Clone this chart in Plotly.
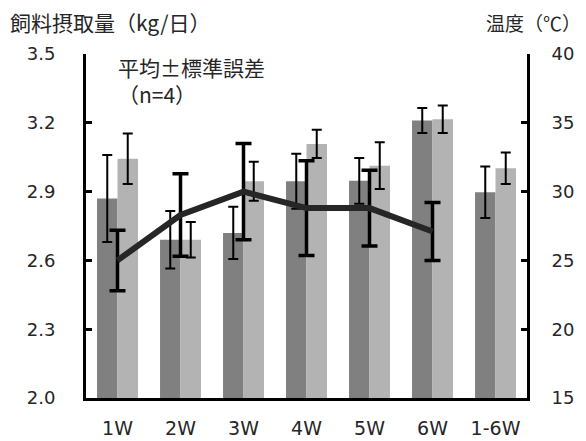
import plotly.graph_objects as go

categories = ["1W", "2W", "3W", "4W", "5W", "6W", "1-6W"]
feed_a = [2.87, 2.69, 2.72, 2.945, 2.947, 3.21, 2.897]
feed_a_err = [0.19, 0.125, 0.114, 0.12, 0.10, 0.055, 0.112]
feed_b = [3.043, 2.69, 2.945, 3.108, 3.013, 3.215, 3.002]
feed_b_err = [0.11, 0.077, 0.085, 0.062, 0.102, 0.06, 0.069]
temp_cats = ["1W", "2W", "3W", "4W", "5W", "6W"]
temp = [25.0, 28.3, 30.0, 28.8, 28.8, 27.1]
temp_err = [2.2, 3.0, 3.5, 3.45, 2.75, 2.1]

LAT = "DejaVu Sans, Noto Sans CJK JP, sans-serif"
CJK = "Noto Sans CJK JP, DejaVu Sans, sans-serif"
TXT = "#262626"

W, H = 586, 441
L, R, T, B = 86, 59, 54, 43
PW, PH = W - L - R, H - T - B


def px(x):
    return (x - L) / PW


def py(y):
    return 1 - (y - T) / PH


fig = go.Figure()
fig.add_trace(go.Bar(
    x=categories, y=feed_a, marker=dict(color="#808080", line=dict(width=0)),
    error_y=dict(type="data", array=feed_a_err, color="black", thickness=2, width=5),
    showlegend=False))
fig.add_trace(go.Bar(
    x=categories, y=feed_b, marker=dict(color="#b3b3b3", line=dict(width=0)),
    error_y=dict(type="data", array=feed_b_err, color="black", thickness=2, width=5),
    showlegend=False))
fig.add_trace(go.Scatter(
    x=temp_cats, y=temp, yaxis="y2", mode="lines",
    line=dict(color="#262626", width=6),
    error_y=dict(type="data", array=temp_err, color="black", thickness=3.5, width=8),
    showlegend=False))

fig.update_layout(
    width=W, height=H,
    margin=dict(l=L, r=R, t=T, b=B),
    paper_bgcolor="white", plot_bgcolor="white",
    barmode="group", bargap=0.35, bargroupgap=0,
    font=dict(family=LAT, size=18, color=TXT),
    xaxis=dict(
        type="category", categoryorder="array", categoryarray=categories,
        showline=True, linecolor="black", linewidth=3, ticks="",
        showgrid=False, zeroline=False, ticklabelstandoff=11, automargin=False,
        tickfont=dict(family=LAT, size=19, color=TXT)),
    yaxis=dict(
        range=[2.0, 3.5], tickvals=[2.0, 2.3, 2.6, 2.9, 3.2, 3.5],
        ticktext=["2.0", "2.3", "2.6", "2.9", "3.2", "3.5"],
        showline=True, linecolor="black", linewidth=3,
        ticks="inside", ticklen=6, tickwidth=3, tickcolor="black",
        showgrid=False, zeroline=False, ticklabelstandoff=24, automargin=False,
        tickfont=dict(family=LAT, size=18, color=TXT)),
    yaxis2=dict(
        overlaying="y", side="right", range=[15, 40],
        tickvals=[15, 20, 25, 30, 35, 40],
        showline=True, linecolor="black", linewidth=3,
        ticks="inside", ticklen=6, tickwidth=3, tickcolor="black",
        showgrid=False, zeroline=False, ticklabelstandoff=18, automargin=False,
        tickfont=dict(family=LAT, size=18, color=TXT)),
    annotations=[
        dict(text="飼料摂取量（kg/日）", xref="paper", yref="paper",
             x=px(8), y=py(22), xanchor="left", yanchor="middle",
             showarrow=False, font=dict(family=CJK, size=21, color=TXT)),
        dict(text="温度（℃）", xref="paper", yref="paper",
             x=px(583), y=py(22), xanchor="right", yanchor="middle",
             showarrow=False, font=dict(family=CJK, size=19, color=TXT)),
        dict(text="平均±標準誤差<br>（n=4）", xref="paper", yref="paper",
             x=px(116), y=py(80), xanchor="left", yanchor="middle", align="left",
             showarrow=False, font=dict(family=CJK, size=21, color=TXT)),
    ],
)

fig.write_html("out.html", config={"displayModeBar": False},
               post_script="document.body.style.margin='0';document.body.style.padding='0';")
